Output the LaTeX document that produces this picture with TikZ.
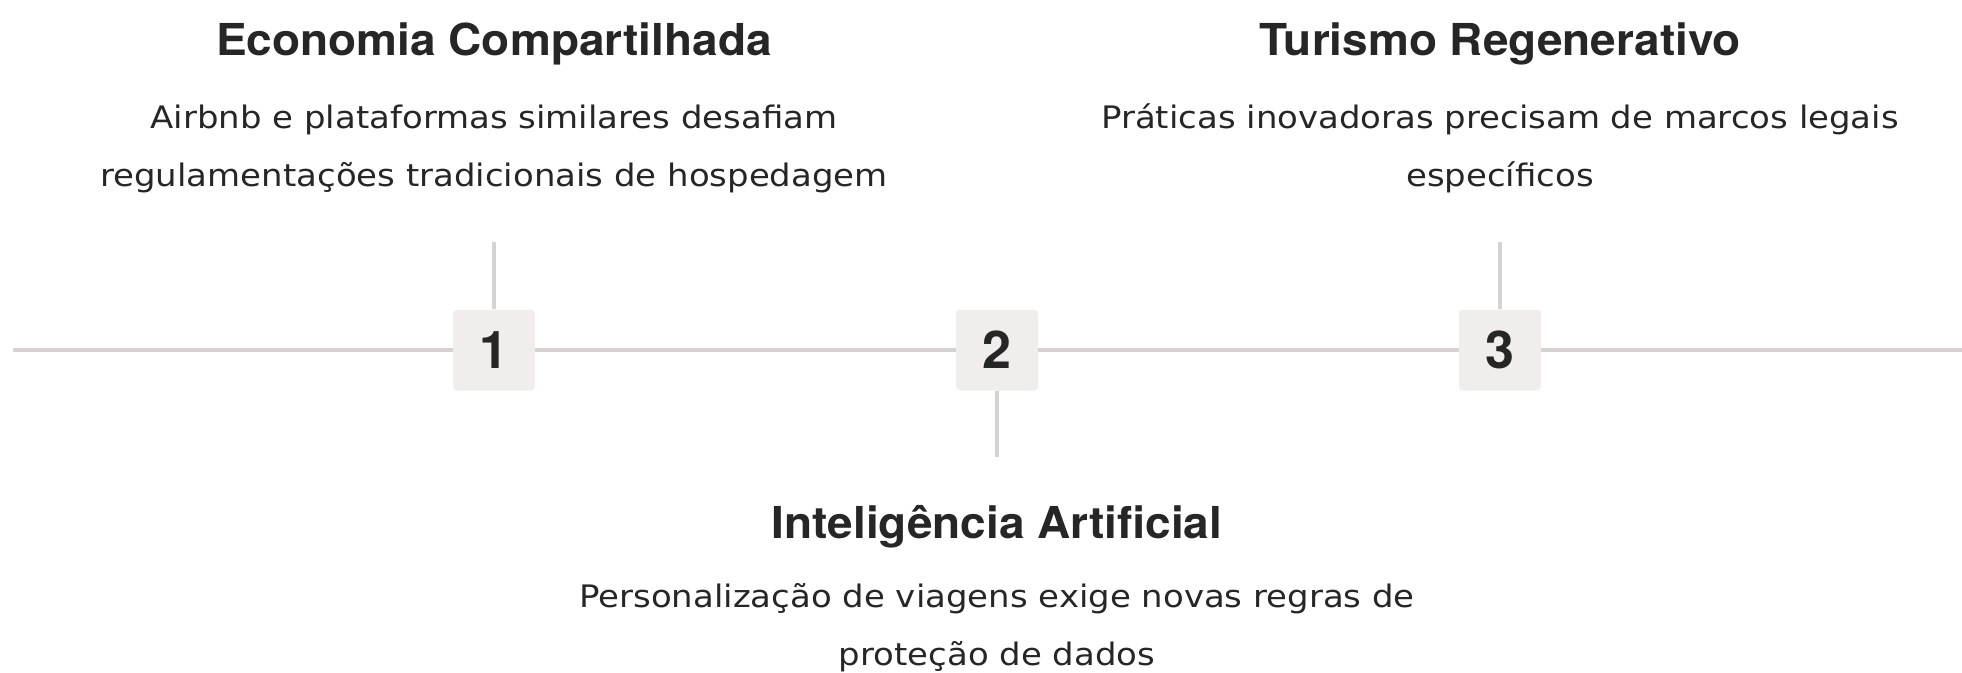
\documentclass[tikz,border=0pt]{standalone}
\usepackage{fontspec}
\setmainfont{TeX Gyre Heros}
\newfontfamily\headfont[FakeStretch=1.045]{TeX Gyre Heros}
\newfontfamily\bodyfont[FakeStretch=1.095]{DejaVu Sans}
\usetikzlibrary{positioning}
\definecolor{inkdark}{HTML}{262626}
\definecolor{boxfill}{HTML}{F0EDEC}
\definecolor{linegray}{HTML}{D5D2D1}

\begin{document}
\begin{tikzpicture}[
    x=1pt, y=-1pt,
    numbox/.style={rectangle, fill=boxfill, rounded corners=4pt, minimum width=82pt, minimum height=81pt, inner sep=0pt, text=inkdark, font=\fontsize{52}{52}\selectfont\bfseries},
    heading/.style={anchor=base, inner sep=0pt, text=inkdark, font=\headfont\fontsize{44}{44}\selectfont\bfseries},
    desc/.style={anchor=base, align=center, inner sep=0pt, text=inkdark, font=\bodyfont\fontsize{31}{58}\selectfont},
    track/.style={draw=linegray, line width=3.5pt}
]
\useasboundingbox (0,0) rectangle (1962,672);

% Timeline markers
\node[numbox] (n1) at (494,350) {1};
\node[numbox] (n2) at (997,350) {2};
\node[numbox] (n3) at (1500,350) {3};

\coordinate (lstart) at (13,350);
\coordinate (lend) at (1962,350);
\coordinate (s1) at (494,242);
\coordinate (s2) at (997,457);
\coordinate (s3) at (1500,242);

% Timeline line and stems
\draw[track] (lstart) -- (n1);
\draw[track] (n1) -- (n2);
\draw[track] (n2) -- (n3);
\draw[track] (n3) -- (lend);
\draw[track] (n1) -- (s1);
\draw[track] (n2) -- (s2);
\draw[track] (n3) -- (s3);

% Labels
\node[heading] (t1) at (494,55) {Economia Compartilhada};
\node[desc] (d1) at (494,186) {Airbnb e plataformas similares desafiam\\regulamentações tradicionais de hospedagem};
\node[heading] (t2) at (997,538) {Inteligência Artificial};
\node[desc] (d2) at (997,665) {Personalização de viagens exige novas regras de\\proteção de dados};
\node[heading] (t3) at (1500,55) {Turismo Regenerativo};
\node[desc] (d3) at (1500,186) {Práticas inovadoras precisam de marcos legais\\específicos};

\end{tikzpicture}
\end{document}
